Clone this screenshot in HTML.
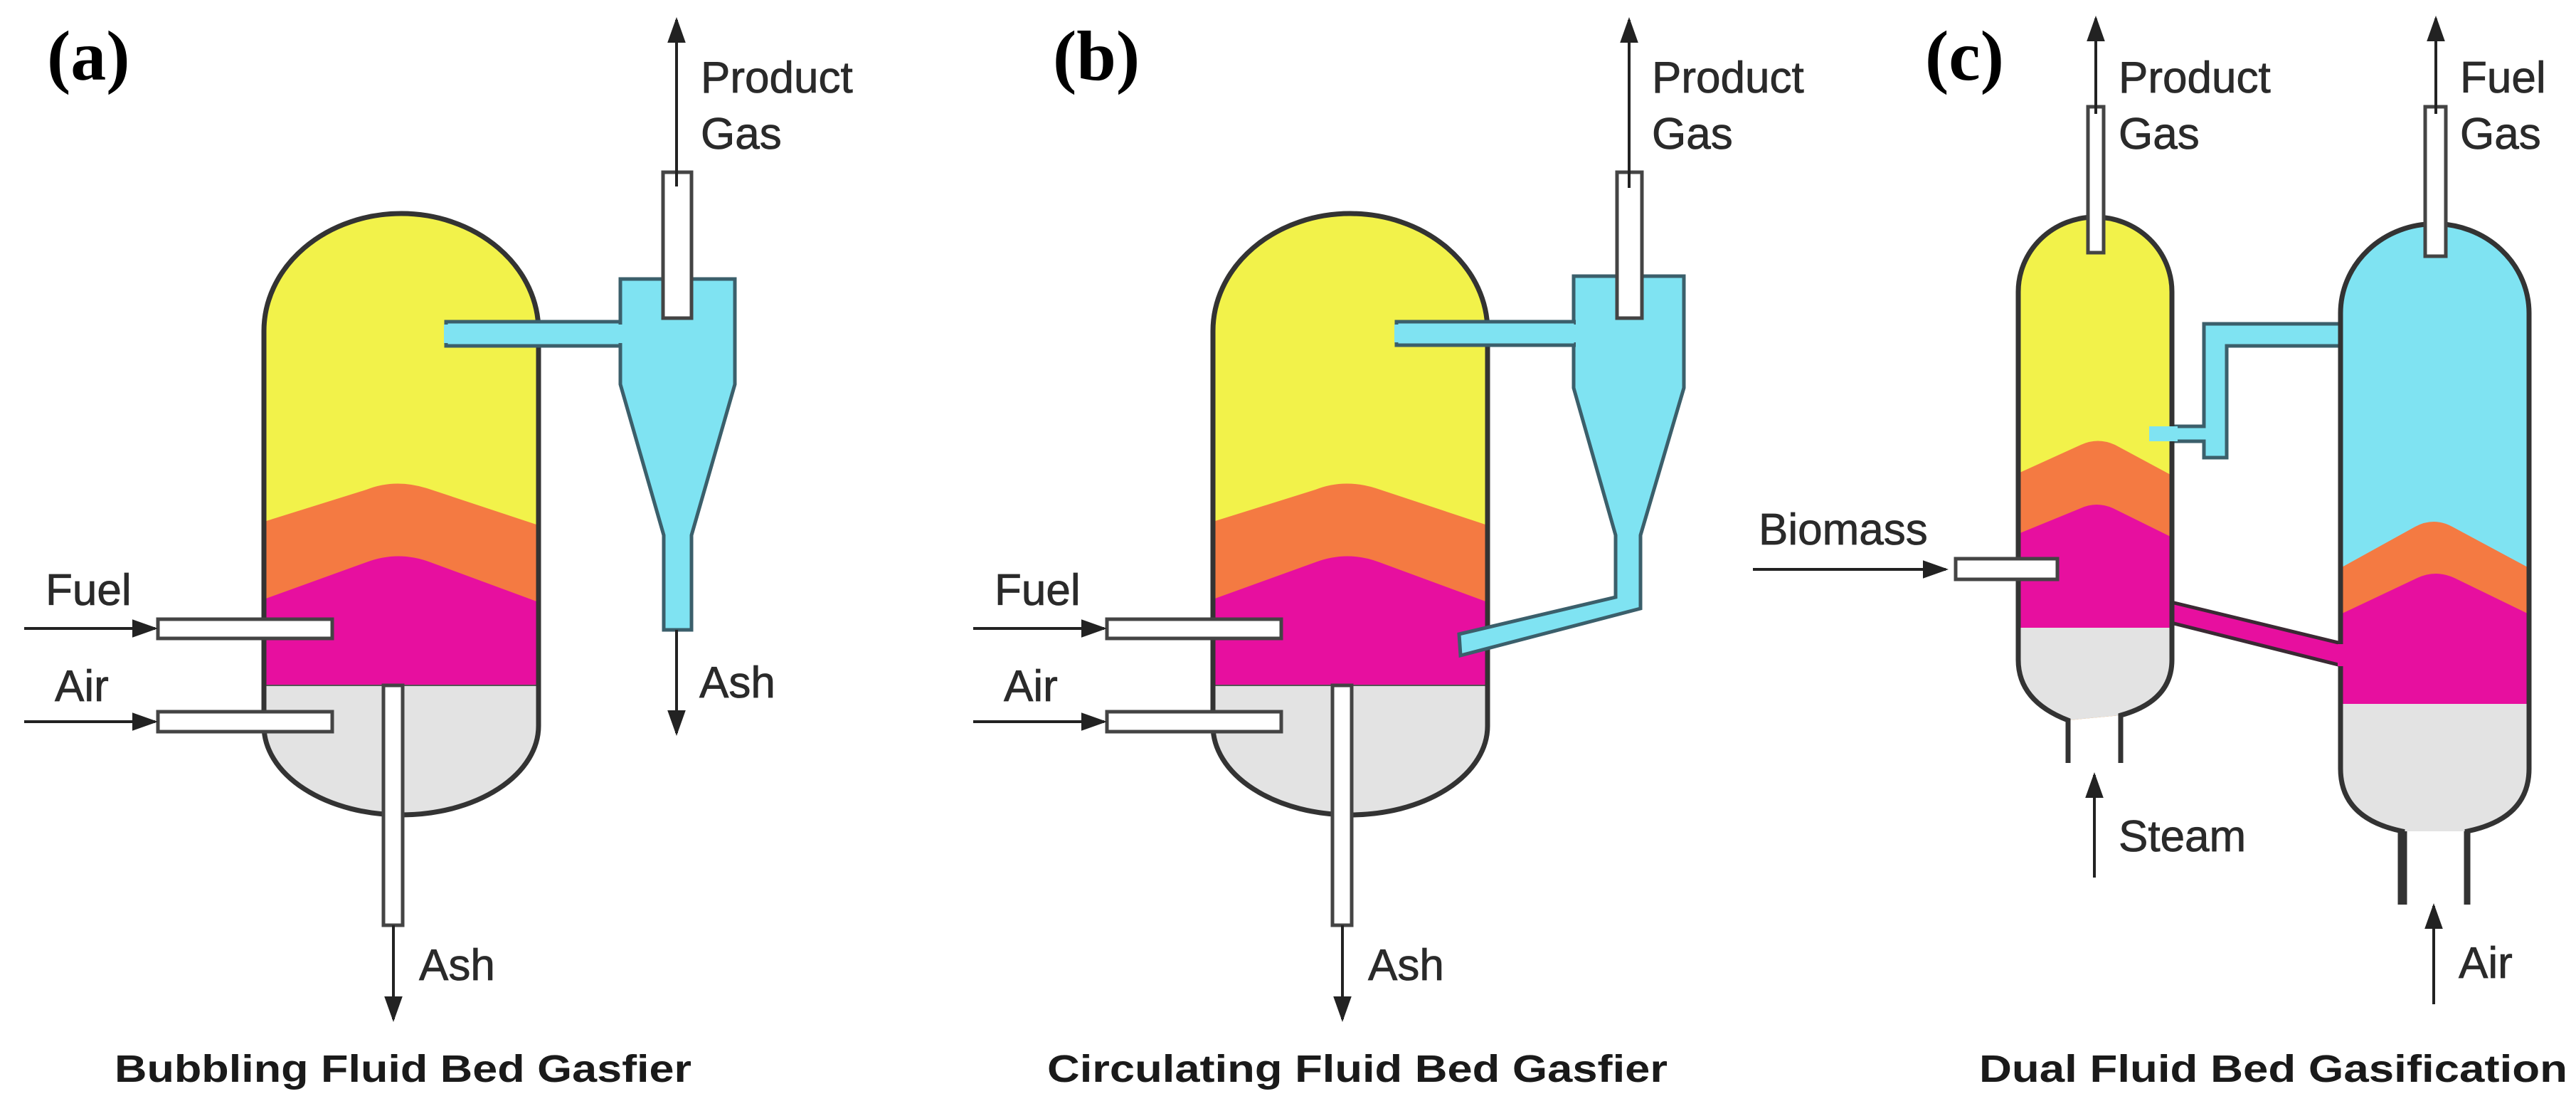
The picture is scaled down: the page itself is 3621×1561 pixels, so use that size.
<!DOCTYPE html>
<html><head><meta charset="utf-8"><style>
html,body{margin:0;padding:0;background:#fff;}
svg{display:block;}
text{font-family:"Liberation Sans",Arial,sans-serif;fill:#2a2a2a;}
.lbl{font-size:62px;stroke:#2a2a2a;stroke-width:0.8px;}
.ttl{font-size:54px;font-weight:bold;fill:#1a1a1a;}
.pl{font-family:"Liberation Serif",serif;font-weight:bold;font-size:100px;fill:#000;}
</style></head><body>
<svg width="3621" height="1561" viewBox="0 0 3621 1561" xmlns="http://www.w3.org/2000/svg">
<defs>
<marker id="ah" markerWidth="9" markerHeight="8" refX="8" refY="4" orient="auto" markerUnits="strokeWidth">
<path d="M0,0.8 L9,4 L0,7.2 Z" fill="#222"/>
</marker>
<clipPath id="ra"><path d="M371,465 A193,165 0 0 1 757,465 L757,1020 A193,125 0 0 1 371,1020 Z"/></clipPath>
<clipPath id="rc1"><path d="M2837,410 A108,105 0 0 1 3053,410 L3053,927 Q3053,985 2981,1005 L2907,1012 Q2837,985 2837,927 Z"/></clipPath>
<clipPath id="rc2"><path d="M3290,440 A132,125 0 0 1 3555,440 L3555,1080 Q3555,1150 3468,1168 L3377,1168 Q3290,1150 3290,1080 Z"/></clipPath>
<g id="reactorA">
<g clip-path="url(#ra)">
<rect x="360" y="290" width="410" height="870" fill="#f2f24a"/>
<path d="M371,733 L515,688 Q555,672 600,686 L757,738 L757,1200 L371,1200 Z" fill="#f47a42"/>
<path d="M371,842 L515,790 Q560,773 605,790 L757,846 L757,963 L371,963 Z" fill="#e70f9f"/>
<rect x="360" y="963" width="410" height="200" fill="#e3e3e3"/>
<line x1="360" y1="963" x2="770" y2="963" stroke="#555" stroke-width="2"/>
</g>
<path d="M371,465 A193,165 0 0 1 757,465 L757,1020 A193,125 0 0 1 371,1020 Z" fill="none" stroke="#333" stroke-width="7"/>
<rect x="222" y="870" width="245" height="27" fill="#fff" stroke="#444" stroke-width="5"/>
<line x1="34" y1="883" x2="218" y2="883" stroke="#222" stroke-width="4" marker-end="url(#ah)"/>
<text class="lbl" x="64" y="850">Fuel</text>
<rect x="222" y="1000" width="245" height="28" fill="#fff" stroke="#444" stroke-width="5"/>
<line x1="34" y1="1014" x2="218" y2="1014" stroke="#222" stroke-width="4" marker-end="url(#ah)"/>
<text class="lbl" x="77" y="985">Air</text>
<rect x="539" y="963" width="27" height="337" fill="#fff" stroke="#444" stroke-width="5"/>
<line x1="553" y1="1300" x2="553" y2="1432" stroke="#222" stroke-width="4" marker-end="url(#ah)"/>
<text class="lbl" x="589" y="1377">Ash</text>
</g>
</defs>

<text class="pl" x="66" y="112">(a)</text>
<use href="#reactorA"/>
<rect x="627" y="452" width="250" height="34" fill="#7fe3f2" stroke="#3b5f6b" stroke-width="5"/>
<path d="M872,392 L1033,392 L1033,540 L972,752 L972,885 L933,885 L933,752 L872,540 Z" fill="#7fe3f2" stroke="#3b5f6b" stroke-width="5"/>
<rect x="624" y="456" width="254" height="26" fill="#7fe3f2"/>
<rect x="932" y="242" width="40" height="205" fill="#fff" stroke="#444" stroke-width="5"/>
<line x1="951" y1="262" x2="951" y2="28" stroke="#222" stroke-width="4" marker-end="url(#ah)"/>
<text class="lbl" x="985" y="130">Product</text>
<text class="lbl" x="985" y="209">Gas</text>
<line x1="951" y1="885" x2="951" y2="1030" stroke="#222" stroke-width="4" marker-end="url(#ah)"/>
<text class="lbl" x="983" y="980">Ash</text>
<text class="ttl" x="161" y="1520" textLength="811" lengthAdjust="spacingAndGlyphs">Bubbling Fluid Bed Gasfier</text>

<text class="pl" x="1480" y="112">(b)</text>
<use href="#reactorA" transform="translate(1334,0)"/>
<path d="M2212,388 L2367,388 L2367,545 L2306,752 L2306,855 L2053,921 L2051,891 L2271,839 L2271,752 L2212,545 Z" fill="#7fe3f2" stroke="#3b5f6b" stroke-width="5"/>
<rect x="1963" y="452" width="252" height="33" fill="#7fe3f2" stroke="#3b5f6b" stroke-width="5"/>
<rect x="1960" y="456" width="258" height="25" fill="#7fe3f2"/>
<rect x="2215" y="396" width="10" height="140" fill="#7fe3f2"/>
<rect x="2273" y="242" width="35" height="205" fill="#fff" stroke="#444" stroke-width="5"/>
<line x1="2290" y1="264" x2="2290" y2="28" stroke="#222" stroke-width="4" marker-end="url(#ah)"/>
<text class="lbl" x="2322" y="130">Product</text>
<text class="lbl" x="2322" y="209">Gas</text>
<text class="ttl" x="1472" y="1520" textLength="872" lengthAdjust="spacingAndGlyphs">Circulating Fluid Bed Gasfier</text>

<text class="pl" x="2706" y="112">(c)</text>
<path d="M3052,846 L3295,905 L3295,936 L3052,875 Z" fill="#e70f9f" stroke="#3a2a33" stroke-width="5"/>
<path d="M3295,455 L3098,455 L3098,599 L3021,599 L3021,620 L3098,620 L3098,643 L3130,643 L3130,486 L3295,486 Z" fill="#7fe3f2" stroke="#3b5f6b" stroke-width="5"/>
<g clip-path="url(#rc1)">
<rect x="2830" y="290" width="230" height="740" fill="#f2f24a"/>
<path d="M2837,665 L2925,625 Q2949,614 2973,625 L3053,668 L3053,1100 L2837,1100 Z" fill="#f47a42"/>
<path d="M2837,750 L2925,714 Q2947,704 2970,714 L3053,755 L3053,882 L2837,882 Z" fill="#e70f9f"/>
<rect x="2830" y="882" width="230" height="150" fill="#e3e3e3"/>
</g>
<path d="M2907,1072 L2907,1012 Q2837,985 2837,927 L2837,410 A108,105 0 0 1 3053,410 L3053,927 Q3053,985 2981,1005 L2981,1072" fill="none" stroke="#333" stroke-width="7"/>
<rect x="3021" y="599" width="40" height="21" fill="#7fe3f2"/>
<rect x="2935" y="150" width="22" height="205" fill="#fff" stroke="#444" stroke-width="5"/>
<line x1="2946" y1="160" x2="2946" y2="26" stroke="#222" stroke-width="4" marker-end="url(#ah)"/>
<text class="lbl" x="2978" y="130">Product</text>
<text class="lbl" x="2978" y="209">Gas</text>
<rect x="2749" y="785" width="143" height="29" fill="#fff" stroke="#444" stroke-width="5"/>
<line x1="2464" y1="800" x2="2735" y2="800" stroke="#222" stroke-width="4" marker-end="url(#ah)"/>
<text class="lbl" x="2472" y="765">Biomass</text>
<line x1="2944" y1="1233" x2="2944" y2="1089" stroke="#222" stroke-width="4" marker-end="url(#ah)"/>
<text class="lbl" x="2978" y="1196">Steam</text>
<g clip-path="url(#rc2)">
<rect x="3280" y="300" width="290" height="880" fill="#7fe3f2"/>
<path d="M3290,798 L3395,740 Q3421,726 3447,740 L3555,798 L3555,1200 L3290,1200 Z" fill="#f47a42"/>
<path d="M3290,863 L3398,812 Q3424,800 3450,812 L3555,863 L3555,989 L3290,989 Z" fill="#e70f9f"/>
<rect x="3280" y="989" width="290" height="200" fill="#e3e3e3"/>
</g>
<path d="M3377,1271 L3377,1168 Q3290,1150 3290,1080 L3290,440 A132,125 0 0 1 3555,440 L3555,1080 Q3555,1150 3468,1168 L3468,1271" fill="none" stroke="#333" stroke-width="7"/>
<line x1="3377" y1="1168" x2="3377" y2="1271" stroke="#333" stroke-width="13"/>
<line x1="3468" y1="1168" x2="3468" y2="1271" stroke="#333" stroke-width="9"/>
<path d="M3290,905 L3290,936" stroke="#e70f9f" stroke-width="8"/>
<rect x="3409" y="150" width="29" height="210" fill="#fff" stroke="#444" stroke-width="5"/>
<line x1="3424" y1="160" x2="3424" y2="26" stroke="#222" stroke-width="4" marker-end="url(#ah)"/>
<text class="lbl" x="3458" y="130">Fuel</text>
<text class="lbl" x="3458" y="209">Gas</text>
<line x1="3421" y1="1411" x2="3421" y2="1273" stroke="#222" stroke-width="4" marker-end="url(#ah)"/>
<text class="lbl" x="3456" y="1374">Air</text>
<text class="ttl" x="2782" y="1520" textLength="827" lengthAdjust="spacingAndGlyphs">Dual Fluid Bed Gasification</text>
</svg>
</body></html>
